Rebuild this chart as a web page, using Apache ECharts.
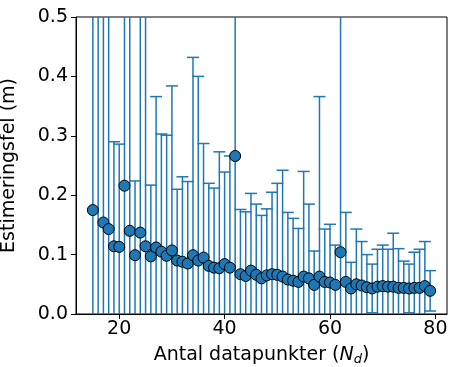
<!DOCTYPE html>
<html>
<head>
<meta charset="utf-8">
<script src="https://cdn.jsdelivr.net/npm/echarts@6/dist/echarts.min.js"></script>
<style>html,body{margin:0;padding:0;background:#fff}#c{width:450px;height:367px}</style>
</head>
<body>
<div id="c"></div>
<script>
// Number of data points
var nd = [15,16,17,18,19,20,21,22,23,24,25,26,27,28,29,30,31,32,33,34,35,36,37,38,39,40,41,42,43,44,45,46,47,48,49,50,51,52,53,54,55,56,57,58,59,60,61,62,63,64,65,66,67,68,69,70,71,72,73,74,75,76,77,78,79];
// Mean estimation error (m)
var meanErr = [0.175,0.60,0.154,0.143,0.114,0.113,0.216,0.140,0.099,0.137,0.114,0.097,0.112,0.105,0.098,0.107,0.090,0.088,0.085,0.099,0.090,0.095,0.081,0.078,0.077,0.084,0.078,0.266,0.067,0.064,0.073,0.066,0.060,0.065,0.067,0.066,0.063,0.058,0.056,0.054,0.063,0.060,0.049,0.063,0.054,0.053,0.049,0.104,0.054,0.043,0.050,0.048,0.045,0.043,0.046,0.047,0.046,0.046,0.044,0.044,0.043,0.044,0.044,0.047,0.039];
// Standard deviation (error bar half-length)
var stdErr = [0.6,0.9,0.6,0.6,0.176,0.173,0.6,0.6,0.125,0.6,0.6,0.120,0.254,0.198,0.203,0.277,0.120,0.143,0.138,0.333,0.310,0.192,0.139,0.134,0.196,0.155,0.188,0.6,0.109,0.108,0.130,0.119,0.106,0.112,0.138,0.154,0.179,0.113,0.105,0.090,0.177,0.125,0.057,0.303,0.089,0.098,0.067,0.6,0.117,0.044,0.093,0.074,0.055,0.041,0.063,0.069,0.063,0.090,0.066,0.045,0.041,0.060,0.065,0.075,0.034];
var xTicks = [20,40,60,80];
var yTicks = [0.0,0.1,0.2,0.3,0.4,0.5];

var Y_MIN = 0, Y_MAX = 0.5;
var X_MIN = 11.8, X_MAX = 82.2;
var COLOR = '#1f77b4';
var FONT = 'DejaVu Sans';
var FS = 19;

var barData = nd.map(function(n,i){ return [n, meanErr[i], stdErr[i]]; });
var ptData = nd.map(function(n,i){ return [n, meanErr[i]]; });

var chart = echarts.init(document.getElementById('c'), null, {renderer:'canvas'});
chart.setOption({
  animation: false,
  backgroundColor: '#fff',
  grid: {left:76, right:3, top:17, bottom:53, containLabel:false, outerBoundsMode:'none',
         show:true, borderColor:'#000', borderWidth:1, backgroundColor:'transparent'},
  xAxis: {
    type:'value', min:X_MIN, max:X_MAX,
    splitLine:{show:false},
    axisLine:{show:true, onZero:false, lineStyle:{color:'#000', width:1}},
    axisTick:{show:true, inside:false, length:5, lineStyle:{color:'#000'}, customValues: xTicks},
    axisLabel:{color:'#000', fontFamily:FONT, fontSize:FS, margin:6, customValues: xTicks},
    name:'Antal datapunkter ({i|N}{s|d})',
    nameLocation:'middle', nameGap:30,
    nameTextStyle:{color:'#000', fontFamily:FONT, fontSize:FS,
      rich:{
        i:{fontFamily:FONT, fontSize:FS, fontStyle:'italic', color:'#000'},
        s:{fontFamily:FONT, fontSize:13, fontStyle:'italic', color:'#000', padding:[9,0,0,0]}
      }}
  },
  yAxis: {
    type:'value', min:Y_MIN, max:Y_MAX, interval:0.1,
    splitLine:{show:false},
    axisLine:{show:true, onZero:false, lineStyle:{color:'#000', width:1}},
    axisTick:{show:true, inside:false, length:5, lineStyle:{color:'#000'}},
    axisLabel:{color:'#000', fontFamily:FONT, fontSize:FS, margin:8,
      formatter:function(v){ return v.toFixed(1); }},
    name:'Estimeringsfel (m)', nameLocation:'middle', nameGap:57,
    nameTextStyle:{color:'#000', fontFamily:FONT, fontSize:FS}
  },
  series: [
    {
      type:'custom', z:2, clip:true,
      data: barData,
      encode:{x:0, y:1},
      renderItem:function(params, api){
        var x = api.value(0), m = api.value(1), e = api.value(2);
        var lo = Math.max(m - e, Y_MIN), hi = Math.min(m + e, Y_MAX);
        var pLo = api.coord([x, lo]), pHi = api.coord([x, hi]);
        var st = {stroke: COLOR, lineWidth:1.5};
        var ch = [{type:'line', shape:{x1:pLo[0], y1:pLo[1], x2:pHi[0], y2:pHi[1]}, style:st}];
        var cw = 6;
        if (m + e <= Y_MAX) ch.push({type:'line', shape:{x1:pHi[0]-cw, y1:pHi[1], x2:pHi[0]+cw, y2:pHi[1]}, style:st});
        if (m - e >= Y_MIN) ch.push({type:'line', shape:{x1:pLo[0]-cw, y1:pLo[1], x2:pLo[0]+cw, y2:pLo[1]}, style:st});
        return {type:'group', children:ch};
      }
    },
    {
      type:'scatter', z:3, clip:true,
      data: ptData,
      symbol:'circle', symbolSize:11,
      itemStyle:{color:COLOR, borderColor:'#000', borderWidth:1, opacity:1}
    }
  ]
});
</script>
</body>
</html>
